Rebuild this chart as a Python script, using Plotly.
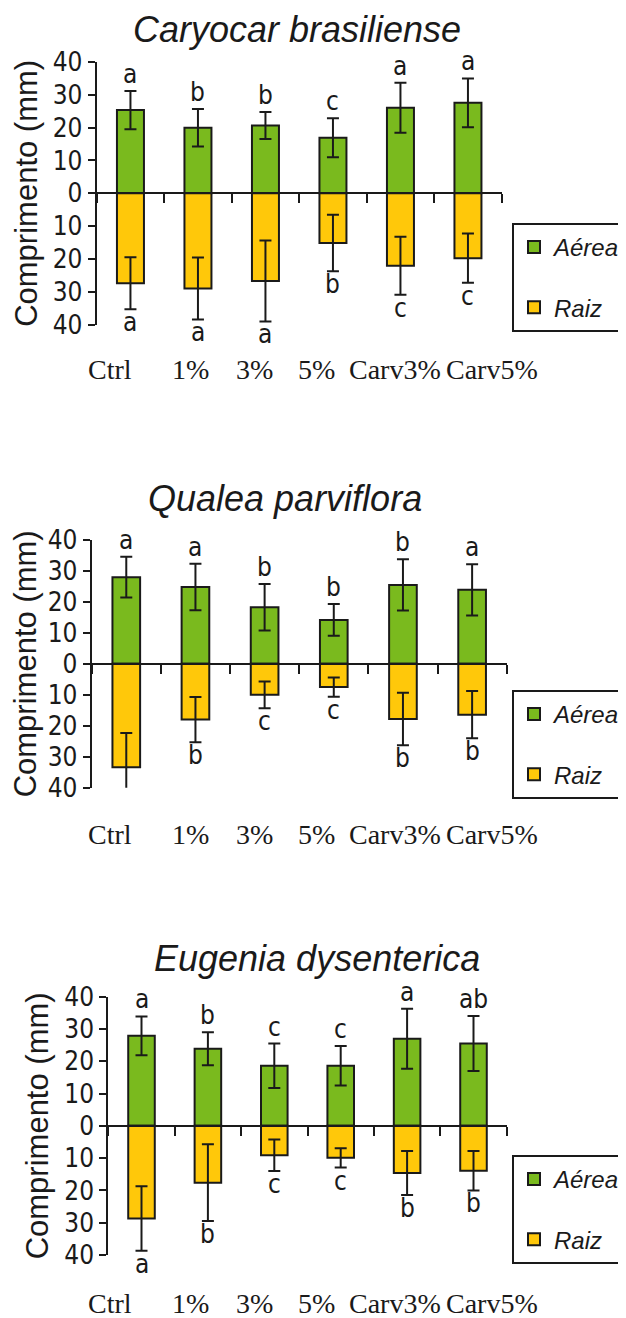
import plotly.graph_objects as go

# ---- data ----
categories = ["Ctrl", "1%", "3%", "5%", "Carv3%", "Carv5%"]
species = ["Caryocar brasiliense", "Qualea parviflora", "Eugenia dysenterica"]

caryocar_aerea = [25.3, 19.9, 20.6, 16.9, 26.0, 27.5]
caryocar_aerea_err = [5.8, 5.7, 4.1, 5.9, 7.6, 7.4]
caryocar_raiz = [27.3, 28.9, 26.6, 15.1, 22.0, 19.7]
caryocar_raiz_err = [7.9, 9.4, 12.3, 8.6, 8.8, 7.5]
caryocar_aerea_letters = ["a", "b", "b", "c", "a", "a"]
caryocar_raiz_letters = ["a", "a", "a", "b", "c", "c"]

qualea_aerea = [28.0, 24.8, 18.3, 14.2, 25.5, 23.9]
qualea_aerea_err = [6.6, 7.5, 7.5, 5.1, 8.3, 8.3]
qualea_raiz = [33.4, 18.0, 10.0, 7.5, 17.8, 16.4]
qualea_raiz_err = [11.1, 7.3, 4.3, 3.1, 8.5, 7.6]
qualea_aerea_letters = ["a", "a", "b", "b", "b", "a"]
qualea_raiz_letters = ["a", "b", "c", "c", "b", "b"]

eugenia_aerea = [27.9, 23.9, 18.6, 18.6, 27.0, 25.5]
eugenia_aerea_err = [6.0, 5.1, 6.9, 6.1, 9.3, 8.5]
eugenia_raiz = [28.7, 17.6, 9.1, 9.9, 14.6, 13.9]
eugenia_raiz_err = [10.0, 11.9, 4.9, 3.0, 6.8, 6.1]
eugenia_aerea_letters = ["a", "b", "c", "c", "a", "ab"]
eugenia_raiz_letters = ["a", "b", "c", "c", "b", "b"]

y_tickvals = [40, 30, 20, 10, 0, -10, -20, -30, -40]
y_ticktext = ["40", "30", "20", "10", "0", "10", "20", "30", "40"]

series = [
    (caryocar_aerea, caryocar_aerea_err, caryocar_raiz, caryocar_raiz_err,
     caryocar_aerea_letters, caryocar_raiz_letters),
    (qualea_aerea, qualea_aerea_err, qualea_raiz, qualea_raiz_err,
     qualea_aerea_letters, qualea_raiz_letters),
    (eugenia_aerea, eugenia_aerea_err, eugenia_raiz, eugenia_raiz_err,
     eugenia_aerea_letters, eugenia_raiz_letters),
]

# ---- styling / layout ----
OFF = 8  # page body margin around the plot div
W, H = 626 - OFF, 1318 - OFF
GREEN = "#7aba1e"
YELLOW = "#ffc80a"
INK = "#1a1a1a"
NARROW = "Liberation Sans Narrow, Arial Narrow, DejaVu Sans Condensed, sans-serif"
SANS = "Liberation Sans, Arial, sans-serif"
SERIF = "Liberation Serif, Times New Roman, serif"
Y_RANGE = [-40, 40]


def px_x(x):
    return (x - OFF) / W


def px_y(y):
    return 1 - (y - OFF) / H


# plot boxes in page pixels: left, right, top(40), bottom(-40)
boxes = [(96.7, 501.7, 61.7, 325.0), (91.7, 506.7, 540.0, 787.7), (108.3, 506.7, 996.7, 1255.0)]
title_pos = [(297, 30), (285, 498), (317, 958)]
label_row = [369, 835, 1303]
legend_top = [223, 690, 1155]
# treatment labels sit at their own x positions, not centred under the bars
label_px = [110, 190, 254, 316, 395, 492]

fig = go.Figure()
layout = {}
annotations = []

for i, (aer, aer_err, raiz, raiz_err, aer_let, raiz_let) in enumerate(series):
    n = "" if i == 0 else str(i + 1)
    leg = "legend" + n
    left, right, top, bottom = boxes[i]
    xdom = [px_x(left), px_x(right)]
    ydom = [px_y(bottom), px_y(top)]
    zero_pos = ydom[0] + (0 - Y_RANGE[0]) / (Y_RANGE[1] - Y_RANGE[0]) * (ydom[1] - ydom[0])

    fig.add_trace(
        go.Bar(
            x=categories,
            y=aer,
            error_y={"type": "data", "array": aer_err, "color": INK, "thickness": 2, "width": 6},
            marker={"color": GREEN, "line": {"color": INK, "width": 2}},
            name="Aérea",
            legendgroup=f"aer{i}",
            legend=leg,
            xaxis="x" + n,
            yaxis="y" + n,
            cliponaxis=False,
        )
    )
    fig.add_trace(
        go.Bar(
            x=categories,
            y=[-v for v in raiz],
            error_y={"type": "data", "array": raiz_err, "color": INK, "thickness": 2, "width": 6},
            marker={"color": YELLOW, "line": {"color": INK, "width": 2}},
            name="Raiz",
            legendgroup=f"raiz{i}",
            legend=leg,
            xaxis="x" + n,
            yaxis="y" + n,
            cliponaxis=False,
        )
    )

    # category axis drawn along y = 0, ticks between the categories
    layout["xaxis" + n] = dict(
        domain=xdom, anchor="free", position=zero_pos, type="category",
        range=[-0.5, len(categories) - 0.5], showline=True, linecolor=INK, linewidth=2,
        ticks="outside", tickson="boundaries", ticklen=9, tickwidth=2, tickcolor=INK,
        showticklabels=False, showgrid=False, zeroline=False, automargin=False,
    )
    layout["yaxis" + n] = dict(
        domain=ydom, anchor="x" + n, range=Y_RANGE, tickmode="array",
        tickvals=y_tickvals, ticktext=y_ticktext, showline=True, linecolor=INK, linewidth=2,
        ticks="outside", ticklen=7, tickwidth=2, tickcolor=INK, showgrid=False, zeroline=False,
        automargin=False, tickfont={"family": NARROW, "size": 26, "color": INK},
        title={"text": "Comprimento (mm)", "font": {"family": SANS, "size": 31, "color": INK},
               "standoff": 6},
    )
    layout[leg] = dict(
        x=px_x(512), y=px_y(legend_top[i]), xanchor="left", yanchor="top",
        bordercolor=INK, borderwidth=2, bgcolor="white", tracegroupgap=26,
        font={"family": SANS, "size": 24, "color": INK, "style": "italic"},
    )

    tx, ty = title_pos[i]
    annotations.append(dict(
        text=species[i], x=px_x(tx), y=px_y(ty), xref="paper", yref="paper",
        xanchor="center", yanchor="middle", showarrow=False,
        font={"family": SANS, "size": 36, "color": INK, "style": "italic"},
    ))
    # treatment labels under each panel
    for lx, c in zip(label_px, categories):
        annotations.append(dict(
            text=c, x=px_x(lx), y=px_y(label_row[i]), xref="paper", yref="paper",
            xanchor="center", yanchor="middle", showarrow=False,
            font={"family": SERIF, "size": 28, "color": INK},
        ))
    for c, v, e, t in zip(categories, aer, aer_err, aer_let):
        annotations.append(dict(
            text=t, x=c, y=v + e, xref="x" + n, yref="y" + n, yanchor="bottom",
            showarrow=False, font={"family": NARROW, "size": 26, "color": INK},
        ))
    for c, v, e, t in zip(categories, raiz, raiz_err, raiz_let):
        annotations.append(dict(
            text=t, x=c, y=-(v + e), xref="x" + n, yref="y" + n, yanchor="top", yshift=4,
            showarrow=False, font={"family": NARROW, "size": 26, "color": INK},
        ))

fig.update_layout(
    **layout,
    annotations=annotations,
    barmode="relative",
    bargap=0.6,
    width=W,
    height=H,
    margin={"l": 0, "r": 0, "t": 0, "b": 0, "autoexpand": False},
    paper_bgcolor="white",
    plot_bgcolor="white",
    showlegend=True,
)

fig.write_html("out.html")
